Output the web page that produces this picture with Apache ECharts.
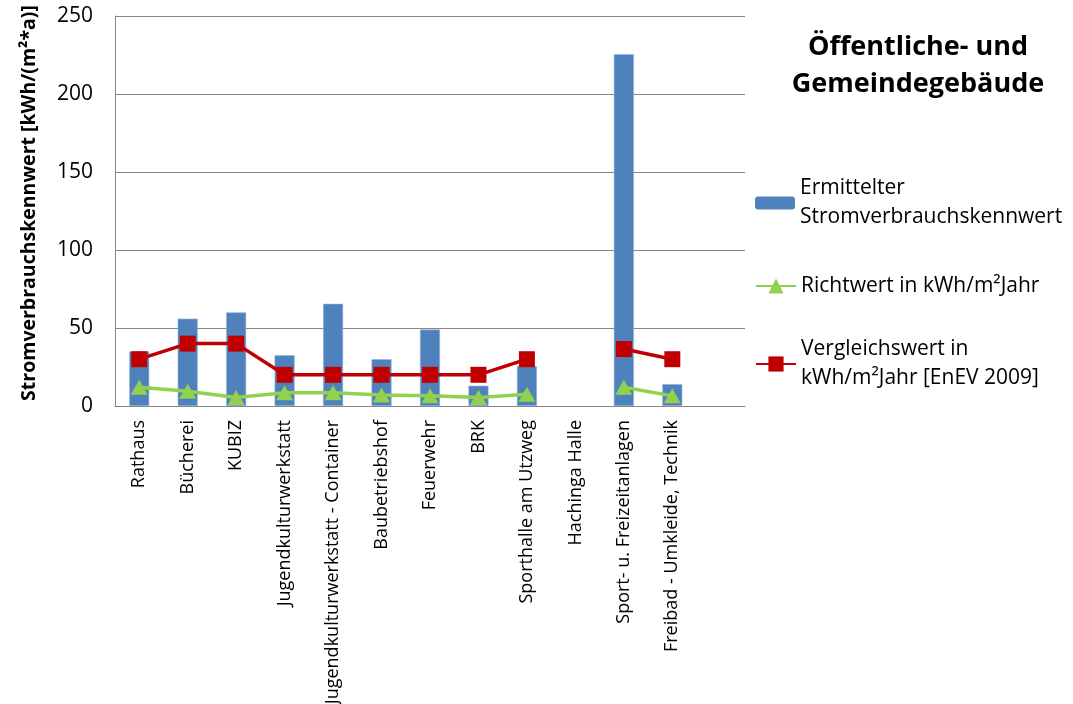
<!DOCTYPE html>
<html>
<head>
<meta charset="utf-8">
<script src="https://cdn.jsdelivr.net/npm/echarts@6/dist/echarts.min.js"></script>
<style>
  html, body { margin: 0; padding: 0; background: #fff; }
  #chart { width: 1073px; height: 704px; }
</style>
</head>
<body>
<div id="chart"></div>
<script>
// Buildings (the axis keeps one trailing empty slot)
const categories = [
  'Rathaus', 'Bücherei', 'KUBIZ', 'Jugendkulturwerkstatt',
  'Jugendkulturwerkstatt - Container', 'Baubetriebshof', 'Feuerwehr', 'BRK',
  'Sporthalle am Utzweg', 'Hachinga Halle', 'Sport- u. Freizeitanlagen',
  'Freibad - Umkleide, Technik', ''
];
// Measured electricity index [kWh/(m²*a)]
const ermittelt = [35, 56, 60, 32.5, 65.5, 30, 49, 13, 25.5, null, 225.5, 14];
// Guide value
const richtwert = [12, 9.5, 5.5, 8.5, 8.5, 7, 6.5, 5.5, 7.5, null, 12, 6.5];
// Reference value EnEV 2009
const vergleichswert = [30, 40, 40, 20, 20, 20, 20, 20, 30, null, 36.5, 30];
// Value axis ticks
const yMin = 0, yMax = 250, yStep = 50;

const names = [
  'Ermittelter Stromverbrauchskennwert',
  'Richtwert in kWh/m²Jahr',
  'Vergleichswert in kWh/m²Jahr [EnEV 2009]'
];
const legendLabels = {
  [names[0]]: 'Ermittelter\nStromverbrauchskennwert',
  [names[1]]: 'Richtwert in kWh/m²Jahr',
  [names[2]]: 'Vergleichswert in\nkWh/m²Jahr [EnEV 2009]'
};

const FONT = '"Open Sans", "DejaVu Sans", sans-serif';
const legendText = { fontFamily: FONT, fontSize: 21, color: '#000', lineHeight: 29 };

function legendFor(name, centerY, twoLines, iconH) {
  const textH = twoLines ? 29 * 3 : 29;
  return {
    show: true,
    data: [{ name: name, textStyle: twoLines ? { padding: [29, 0, 0, 0] } : {} }],
    left: 755,
    top: centerY - Math.max(textH, iconH) / 2,
    padding: 0,
    itemWidth: 40,
    itemHeight: iconH,
    itemGap: 0,
    selectedMode: false,
    formatter: n => legendLabels[n],
    itemStyle: { borderWidth: 0 },
    textStyle: legendText
  };
}

const chart = echarts.init(document.getElementById('chart'), null, { renderer: 'canvas' });
chart.setOption({
  animation: false,
  backgroundColor: '#fff',
  title: {
    text: 'Öffentliche- und\nGemeindegebäude',
    left: 913,
    top: 24,
    textAlign: 'center',
    textStyle: { fontFamily: FONT, fontSize: 27, fontWeight: 'bold', color: '#000', lineHeight: 37 }
  },
  legend: [
    legendFor(names[0], 203, true, 13),
    legendFor(names[1], 286, false, 19),
    legendFor(names[2], 364, true, 19)
  ],
  grid: {
    left: 115, right: 328, top: 16, bottom: 298,
    containLabel: false,
    outerBoundsMode: 'none'
  },
  xAxis: {
    type: 'category',
    data: categories,
    axisLine: { show: true, lineStyle: { color: '#868686', width: 1 } },
    axisTick: { show: false },
    axisLabel: {
      interval: 0,
      rotate: 90,
      margin: 14,
      fontFamily: FONT,
      fontSize: 18,
      color: '#000'
    }
  },
  yAxis: {
    type: 'value',
    min: yMin,
    max: yMax,
    interval: yStep,
    name: 'Stromverbrauchskennwert [kWh/(m²*a)]',
    nameLocation: 'middle',
    nameRotate: 90,
    nameGap: 76,
    nameTextStyle: { fontFamily: FONT, fontSize: 19.5, fontWeight: 'bold', color: '#000', padding: [0, 0, 0, 16] },
    axisLine: { show: true, lineStyle: { color: '#868686', width: 1 } },
    axisTick: { show: false },
    splitLine: { show: true, lineStyle: { color: '#868686', width: 1 } },
    axisLabel: { fontFamily: FONT, fontSize: 21, color: '#000', margin: 22 }
  },
  series: [
    {
      name: names[0],
      type: 'bar',
      data: ermittelt,
      barWidth: 20,
      itemStyle: { color: '#4F81BD', borderColor: '#8FB2DC', borderWidth: 0.6 },
      z: 1
    },
    {
      name: names[1],
      type: 'line',
      data: richtwert,
      connectNulls: false,
      symbol: 'triangle',
      symbolSize: [17, 15],
      lineStyle: { color: '#92D050', width: 3.5 },
      itemStyle: { color: '#92D050' },
      z: 3
    },
    {
      name: names[2],
      type: 'line',
      data: vergleichswert,
      connectNulls: false,
      symbol: 'rect',
      symbolSize: 16,
      lineStyle: { color: '#C00000', width: 3.5 },
      itemStyle: { color: '#C00000' },
      z: 2
    }
  ]
});
</script>
</body>
</html>
